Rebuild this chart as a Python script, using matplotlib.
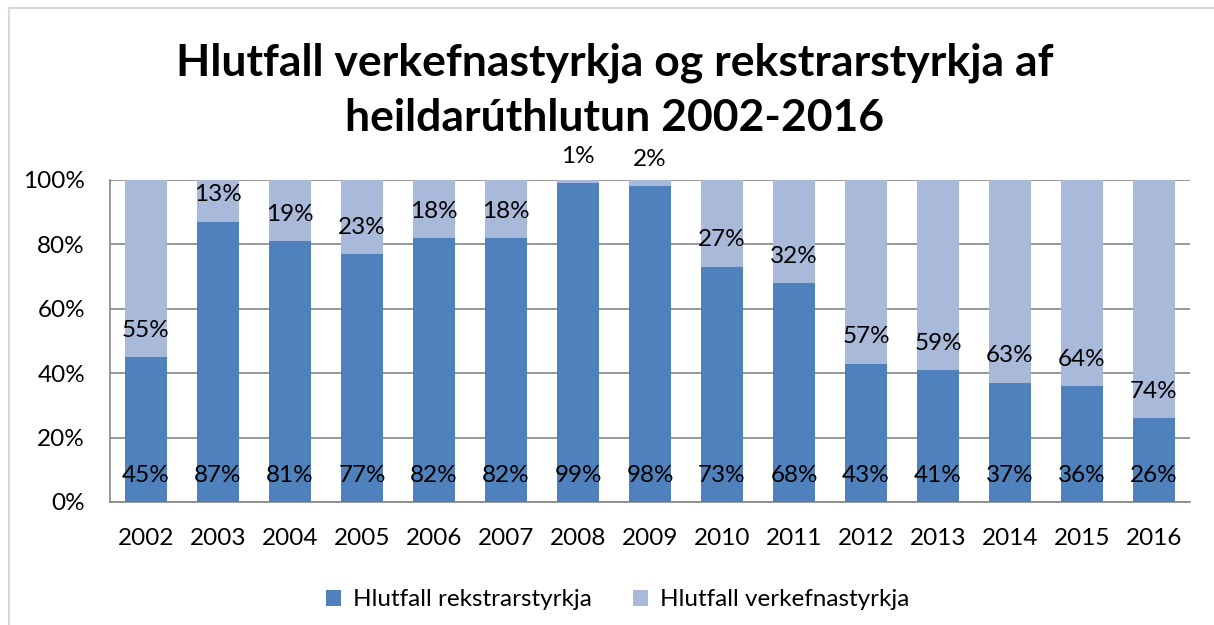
import matplotlib
matplotlib.use("Agg")
import matplotlib.pyplot as plt
from matplotlib.lines import Line2D
from matplotlib.patches import Patch

years = ["2002", "2003", "2004", "2005", "2006", "2007", "2008", "2009",
         "2010", "2011", "2012", "2013", "2014", "2015", "2016"]
rekstrar = [45, 87, 81, 77, 82, 82, 99, 98, 73, 68, 43, 41, 37, 36, 26]
verkefna = [55, 13, 19, 23, 18, 18, 1, 2, 27, 32, 57, 59, 63, 64, 74]
series_names = ["Hlutfall rekstrarstyrkja", "Hlutfall verkefnastyrkja"]
title_lines = ["Hlutfall verkefnastyrkja og rekstrarstyrkja af",
               "heildarúthlutun 2002-2016"]
yticks = [0, 20, 40, 60, 80, 100]

plt.rcParams['font.family'] = ['Lato', 'DejaVu Sans']

W, H = 1214, 625
fig = plt.figure(figsize=(W / 100, H / 100), dpi=100)
ax = fig.add_axes([110 / W, 1 - 502 / H, (1190 - 110) / W, (502 - 180) / H])

dark = "#4F81BD"
light = "#A9B9D9"
x = list(range(len(years)))
bw = 0.57
ax.bar(x, rekstrar, bw, color=dark, zorder=3)
ax.bar(x, verkefna, bw, bottom=rekstrar, color=light, zorder=3)

lab_fs = 17.5
for i in x:
    ax.annotate(f"{rekstrar[i]}%", (i, 0), xytext=(0, 18.8), textcoords="offset points",
                ha="center", va="center", fontsize=lab_fs, color="black", zorder=5)
    ax.annotate(f"{verkefna[i]}%", (i, rekstrar[i]), xytext=(0, 19.4), textcoords="offset points",
                ha="center", va="center", fontsize=lab_fs, color="black", zorder=5,
                annotation_clip=False)

ax.set_xlim(-0.5, len(years) - 0.5)
ax.set_ylim(0, 100)
ax.set_yticks(yticks)
ax.set_yticklabels([f"{v}%" for v in yticks], fontsize=lab_fs)
ax.set_xticks(x)
ax.set_xticklabels(years, fontsize=lab_fs)
ax.tick_params(axis="both", length=0)
ax.tick_params(axis="y", pad=18)
ax.tick_params(axis="x", pad=19)
ax.grid(axis="y", color="#868686", linewidth=1.2, zorder=0)
for s in ["top", "right"]:
    ax.spines[s].set_visible(False)
for s in ["left", "bottom"]:
    ax.spines[s].set_color("#868686")
    ax.spines[s].set_linewidth(1.2)
ax.set_facecolor("white")

fig.text(615 / W, 1 - 63 / H, title_lines[0], ha="center", va="center",
         fontsize=32, fontweight="bold")
fig.text(615 / W, 1 - 118 / H, title_lines[1], ha="center", va="center",
         fontsize=32, fontweight="bold")

handles = [Patch(facecolor=dark), Patch(facecolor=light)]
fig.legend(handles, series_names, loc="center", bbox_to_anchor=(618 / W, 1 - 600 / H),
           ncol=2, frameon=False, fontsize=17.5, handlelength=0.6, handleheight=0.6,
           columnspacing=1.7, handletextpad=0.5)

# outer border (left and top only visible)
fig.add_artist(Line2D([9 / W, 9 / W], [0, 1 - 8 / H], transform=fig.transFigure,
                      color="#D9D9D9", linewidth=1.5))
fig.add_artist(Line2D([9 / W, 1], [1 - 8 / H, 1 - 8 / H], transform=fig.transFigure,
                      color="#D9D9D9", linewidth=1.5))

fig.savefig("out.png", dpi=100)
